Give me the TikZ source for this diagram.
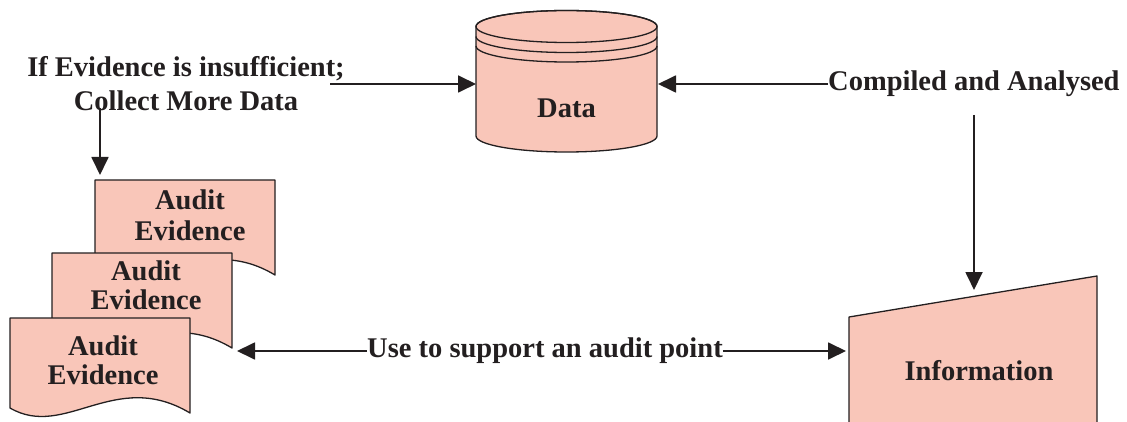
\documentclass[tikz,border=0pt]{standalone}
\usepackage{fontspec}
\setmainfont{Liberation Serif}
\usetikzlibrary{arrows.meta}
\definecolor{fillc}{RGB}{249,198,185}
\definecolor{linec}{RGB}{35,31,32}
\newcommand\auditdoc[2]{%
  \path[shapefill] (#1,#2) -- (#1+180,#2) -- (#1+180,#2-95)
    .. controls (#1+105,#2-50) and (#1+55,#2-122) .. (#1,#2-90) -- cycle;}
\begin{document}
\begin{tikzpicture}[x=1pt,y=1pt,line join=round,
  shapefill/.style={fill=fillc,draw=linec,line width=1.3pt},
  shapeline/.style={draw=linec,line width=1.3pt},
  lbl/.style={font=\bfseries\fontsize{28.5}{34}\selectfont,text=linec,inner sep=0pt,align=center},
  conn/.style={draw=linec,line width=1.8pt,-{Triangle[length=18pt,width=17pt]}}]
\useasboundingbox (0,0) rectangle (1127,421);
\clip (0,0) rectangle (1127,421);
% cylinder
\path[shapefill] (476,394.5) -- (476,285)
  arc[start angle=180,end angle=360,x radius=90.5pt,y radius=16pt]
  -- (657,394.5)
  arc[start angle=0,end angle=180,x radius=90.5pt,y radius=16pt] -- cycle;
\draw[shapeline] (566.5,394.5) ellipse [x radius=90.5pt,y radius=16pt];
\draw[shapeline] (476,384.5) arc[start angle=180,end angle=360,x radius=90.5pt,y radius=16pt];
\draw[shapeline] (476,375) arc[start angle=180,end angle=360,x radius=90.5pt,y radius=16pt];
\node[lbl] (data) at (566.5,313) {Data};
\coordinate (dataW) at (476,337);
\coordinate (dataE) at (658,337);
% information
\path[shapefill] (849,-5) -- (849,104) -- (1097,145) -- (1097,-5) -- cycle;
\node[lbl] (info) at (979,50) {Information};
% documents
\auditdoc{95}{241}
\auditdoc{52}{168}
\auditdoc{10}{103}
\node[lbl] (ev1) at (190,206) {Audit\\[-3pt]Evidence};
\node[lbl] (ev2) at (146,136) {Audit\\[-5pt]Evidence};
\node[lbl] (ev3) at (103,61) {Audit\\[-5pt]Evidence};
% labels
\node[lbl] (ifev) at (186,337) {If Evidence is insufficient;\\Collect More Data};
\node[lbl,anchor=west] (comp) at (828,337) {Compiled and Analysed};
\node[lbl] (use) at (545,70) {Use to support an audit point};
% connectors
\coordinate (ifevR) at (330,337);
\coordinate (ifevS) at (100,313);
\coordinate (doc1T) at (100,246);
\coordinate (compS) at (974,306);
\coordinate (infoT) at (974,131);
\coordinate (doc2R) at (237,70);
\coordinate (infoL) at (846,70);
\draw[conn] (ifevR) -- (dataW);
\draw[conn] (comp.west) -- (dataE);
\draw[conn] (ifevS) -- (doc1T);
\draw[conn] (compS) -- (infoT);
\draw[conn] (use.west) -- (doc2R);
\draw[conn] (use.east) -- (infoL);
\end{tikzpicture}
\end{document}
